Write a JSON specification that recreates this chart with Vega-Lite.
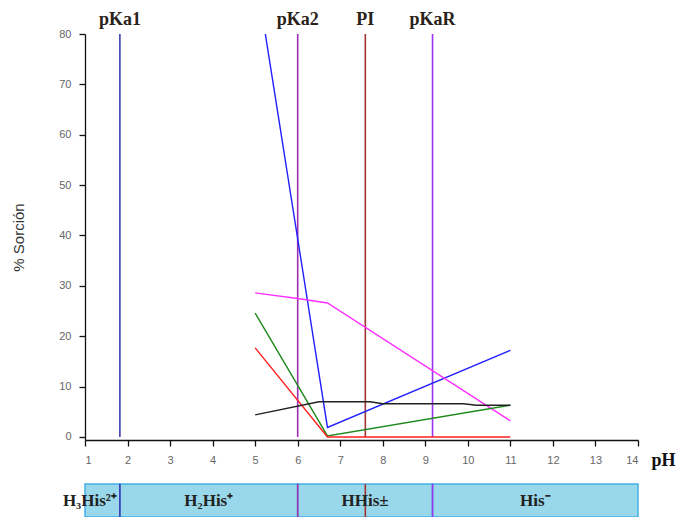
{
  "$schema": "https://vega.github.io/schema/vega-lite/v6.json",
  "padding": {"left": 11, "top": 11, "right": 2, "bottom": 0},
  "background": "white",
  "config": {"view": {"stroke": null}, "concat": {"spacing": 14}},
  "datasets": {
    "series": [
      {"s": "blue", "x": 5, "y": 92.8},
      {"s": "blue", "x": 6.7, "y": 1.9},
      {"s": "blue", "x": 11, "y": 17.2},
      {"s": "magenta", "x": 5, "y": 28.6},
      {"s": "magenta", "x": 6, "y": 27.5},
      {"s": "magenta", "x": 6.7, "y": 26.6},
      {"s": "magenta", "x": 11, "y": 3.2},
      {"s": "green", "x": 5, "y": 24.6},
      {"s": "green", "x": 6.7, "y": 0.2},
      {"s": "green", "x": 11, "y": 6.3},
      {"s": "red", "x": 5, "y": 17.7},
      {"s": "red", "x": 6.7, "y": 0},
      {"s": "red", "x": 11, "y": 0},
      {"s": "black", "x": 5, "y": 4.4},
      {"s": "black", "x": 6.5, "y": 7.0},
      {"s": "black", "x": 7.7, "y": 7.0},
      {"s": "black", "x": 8, "y": 6.6},
      {"s": "black", "x": 9.9, "y": 6.6},
      {"s": "black", "x": 10.2, "y": 6.3},
      {"s": "black", "x": 11, "y": 6.3}
    ],
    "refs": [
      {"name": "pKa1", "x": 1.82},
      {"name": "pKa2", "x": 6.0},
      {"name": "PI", "x": 7.59},
      {"name": "pKaR", "x": 9.17}
    ],
    "regions": [
      {"label": "H₃His²⁺", "x": 1, "x2": 1.82},
      {"label": "H₂His⁺", "x": 1.82, "x2": 6.0},
      {"label": "HHis±", "x": 6.0, "x2": 9.17},
      {"label": "His⁻", "x": 9.17, "x2": 14}
    ]
  },
  "vconcat": [
    {
      "width": 553,
      "height": 406,
      "resolve": {"scale": {"color": "independent"}},
      "layer": [
        {
          "data": {"name": "refs"},
          "mark": {"type": "rule", "strokeWidth": 1.6},
          "encoding": {
            "x": {"field": "x", "type": "quantitative", "scale": {"domain": [1, 14], "nice": false, "zero": false}},
            "y": {"datum": 80},
            "y2": {"datum": 0},
            "color": {"field": "name", "type": "nominal", "legend": null,
              "scale": {"domain": ["pKa1", "pKa2", "PI", "pKaR"], "range": ["#3b3bb5", "#9b30b0", "#a03232", "#9a33ee"]}}
          }
        },
        {
          "data": {"name": "refs"},
          "mark": {"type": "text", "font": "Liberation Serif", "fontWeight": "bold", "fontSize": 18, "dy": -9, "baseline": "alphabetic", "color": "#2a2218"},
          "encoding": {
            "x": {"field": "x", "type": "quantitative"},
            "y": {"datum": 80},
            "text": {"field": "name"}
          }
        },
        {
          "data": {"name": "series"},
          "mark": {"type": "line", "clip": true, "strokeWidth": 1.4},
          "encoding": {
            "x": {"field": "x", "type": "quantitative",
              "axis": {"values": [1,1.5,2,2.5,3,3.5,4,4.5,5,5.5,6,6.5,7,7.5,8,8.5,9,9.5,10,10.5,11,11.5,12,12.5,13,13.5,14],
                "labelExpr": "datum.value % 1 === 0 ? datum.label : ''",
                "tickSize": {"condition": {"test": "datum.value % 1 === 0", "value": 6}, "value": 3},
                "grid": false, "domainColor": "#111", "tickColor": "#111", "domainWidth": 1.3, "tickWidth": 1.3,
                "labelColor": "#666", "labelFontSize": 11, "labelFont": "Liberation Sans", "labelPadding": 8,
                "title": "pH", "titleFont": "Liberation Serif", "titleFontWeight": "bold", "titleFontSize": 18, "titleColor": "#111",
                "titleAngle": 0, "titleAlign": "left", "titleBaseline": "middle", "titleX": 566, "titleY": 20}},
            "y": {"field": "y", "type": "quantitative", "scale": {"domain": [-0.6, 80], "nice": false, "zero": false},
              "axis": {"values": [0,5,10,15,20,25,30,35,40,45,50,55,60,65,70,75,80],
                "labelExpr": "datum.value % 10 === 0 ? datum.label : ''",
                "tickSize": {"condition": {"test": "datum.value % 10 === 0", "value": 6}, "value": 3},
                "grid": false, "domainColor": "#111", "tickColor": "#111", "domainWidth": 1.3, "tickWidth": 1.3,
                "labelColor": "#666", "labelFontSize": 11, "labelFont": "Liberation Sans", "labelPadding": 8,
                "title": "% Sorción", "titleFont": "Liberation Sans", "titleFontWeight": "normal", "titleFontSize": 15, "titleColor": "#333", "titlePadding": 32}},
            "color": {"field": "s", "type": "nominal", "legend": null,
              "scale": {"domain": ["blue", "magenta", "green", "red", "black"], "range": ["#2020ff", "#ff30ff", "#1e8a1e", "#ff2020", "#222222"]}},
            "detail": {"field": "s"}
          }
        }
      ]
    },
    {
      "width": 553,
      "height": 33,
      "layer": [
        {
          "data": {"name": "regions"},
          "mark": {"type": "rect", "fill": "#99d8ea", "stroke": "#45aee6", "strokeWidth": 1.5},
          "encoding": {
            "x": {"field": "x", "type": "quantitative", "scale": {"domain": [1, 14], "nice": false, "zero": false}, "axis": null},
            "x2": {"field": "x2"}
          }
        },
        {
          "data": {"name": "refs"},
          "mark": {"type": "rule", "strokeWidth": 1.6},
          "encoding": {
            "x": {"field": "x", "type": "quantitative"},
            "color": {"field": "name", "type": "nominal", "legend": null,
              "scale": {"domain": ["pKa1", "pKa2", "PI", "pKaR"], "range": ["#3b3bb5", "#9b30b0", "#a03232", "#9a33ee"]}}
          }
        },
        {
          "data": {"name": "regions"},
          "transform": [{"filter": "datum.x > 1"}, {"calculate": "(datum.x + datum.x2) / 2", "as": "mid"}],
          "mark": {"type": "text", "font": "Liberation Serif", "fontWeight": "bold", "fontSize": 17, "color": "#222"},
          "encoding": {
            "x": {"field": "mid", "type": "quantitative"},
            "text": {"field": "label"}
          }
        },
        {
          "data": {"name": "regions"},
          "transform": [{"filter": "datum.x == 1"}],
          "mark": {"type": "text", "font": "Liberation Serif", "fontWeight": "bold", "fontSize": 17, "color": "#222", "align": "right", "dx": -3},
          "encoding": {
            "x": {"field": "x2", "type": "quantitative"},
            "text": {"field": "label"}
          }
        }
      ]
    }
  ]
}
